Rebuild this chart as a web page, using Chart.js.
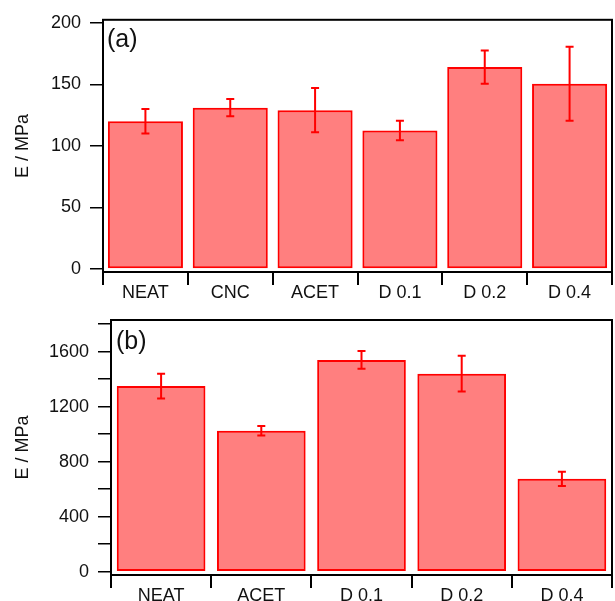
<!DOCTYPE html>
<html>
<head>
<meta charset="utf-8">
<script src="https://cdn.jsdelivr.net/npm/chart.js@4.4.1/dist/chart.umd.min.js"></script>
<style>
  body { margin: 0; background: #fff; }
  canvas { display: block; }
</style>
</head>
<body>
<canvas id="chartA" width="615" height="300"></canvas>
<canvas id="chartB" width="615" height="301"></canvas>
<script>
// panel (a)
const labelsA = ['NEAT', 'CNC', 'ACET', 'D 0.1', 'D 0.2', 'D 0.4']
const valuesA = [120, 131, 129, 112.5, 164, 150.5]
const errorsA = [10, 7, 18, 8, 13.5, 30]
const yTicksA = [0, 50, 100, 150, 200]

// panel (b)
const labelsB = ['NEAT', 'ACET', 'D 0.1', 'D 0.2', 'D 0.4']
const valuesB = [1350, 1025, 1540, 1440, 675]
const errorsB = [90, 35, 65, 130, 52]
const yTicksB = [0, 200, 400, 600, 800, 1000, 1200, 1400, 1600, 1800]
const yLabelsB = [0, 400, 800, 1200, 1600]

const fontFamily = "'Liberation Sans', Arial, sans-serif"

// error bars drawn from the y scale
const errorBars = {
  id: 'errorBars',
  afterDatasetsDraw(chart) {
    const ctx = chart.ctx
    const y = chart.scales.y
    chart.data.datasets.forEach((ds, i) => {
      const meta = chart.getDatasetMeta(i)
      meta.data.forEach((bar, j) => {
        const v = ds.data[j], e = ds.errors[j]
        const top = y.getPixelForValue(v + e)
        const bot = y.getPixelForValue(v - e)
        ctx.save()
        ctx.strokeStyle = '#ff0000'
        ctx.lineWidth = 2
        ctx.beginPath()
        ctx.moveTo(bar.x, top); ctx.lineTo(bar.x, bot)
        ctx.moveTo(bar.x - 4, top); ctx.lineTo(bar.x + 4, top)
        ctx.moveTo(bar.x - 4, bot); ctx.lineTo(bar.x + 4, bot)
        ctx.stroke()
        ctx.restore()
      })
    })
  }
}

// box round the plot + panel letter
const frame = {
  id: 'frame',
  afterDraw(chart, args, opts) {
    const ctx = chart.ctx
    const a = chart.chartArea
    ctx.save()
    ctx.strokeStyle = '#000'
    ctx.lineWidth = 2
    ctx.strokeRect(a.left, a.top, a.right - a.left, a.bottom - a.top)
    ctx.fillStyle = '#111'
    ctx.font = '25px ' + fontFamily
    ctx.textBaseline = 'alphabetic'
    ctx.fillText(opts.letter, a.left + opts.dx, a.top + opts.dy)
    ctx.restore()
  }
}

function makeChart(id, labels, values, errors, yTicks, yLabels, lay) {
  return new Chart(document.getElementById(id), {
    type: 'bar',
    data: {
      labels: labels,
      datasets: [{
        data: values,
        errors: errors,
        backgroundColor: 'rgba(255, 0, 0, 0.5)',
        borderColor: '#ff0000',
        borderWidth: 2,
        borderSkipped: false,
        barPercentage: 0.885,
        categoryPercentage: 1
      }]
    },
    options: {
      responsive: false,
      animation: false,
      devicePixelRatio: 1,
      layout: { padding: { top: lay.top, right: 3, left: 0, bottom: 0 } },
      plugins: {
        legend: { display: false },
        tooltip: { enabled: false },
        frame: { letter: lay.letter, dx: lay.dx, dy: lay.dy }
      },
      scales: {
        x: {
          afterFit: s => { s.height = lay.xh },
          border: { display: true, color: '#000', width: 2 },
          grid: { offset: true, drawOnChartArea: false, tickLength: 13, color: '#000', lineWidth: 2 },
          ticks: { color: '#111', padding: -3, font: { family: fontFamily, size: 18 } }
        },
        y: {
          min: lay.min,
          max: lay.max,
          afterFit: s => { s.width = lay.yw },
          afterBuildTicks: s => { s.ticks = yTicks.map(v => ({ value: v })) },
          border: { display: true, color: '#000', width: 2 },
          grid: { drawOnChartArea: false, tickLength: 13, color: '#000', lineWidth: 1.5 },
          ticks: {
            color: '#111',
            padding: 9,
            font: { family: fontFamily, size: 18 },
            callback: v => yLabels.includes(v) ? String(v) : ''
          },
          title: {
            display: true,
            text: 'E / MPa',
            color: '#111',
            padding: { top: 12, bottom: 0 },
            font: { family: fontFamily, size: 18 }
          }
        }
      }
    },
    plugins: [errorBars, frame]
  })
}

makeChart('chartA', labelsA, valuesA, errorsA, yTicksA, yTicksA,
  { top: 14, xh: 28, yw: 103, min: -2.4, max: 202.4, letter: '(a)', dx: 4, dy: 27 })
makeChart('chartB', labelsB, valuesB, errorsB, yTicksB, yLabelsB,
  { top: 20, xh: 26, yw: 111, min: -24, max: 1830, letter: '(b)', dx: 5, dy: 29 })
</script>
</body>
</html>
